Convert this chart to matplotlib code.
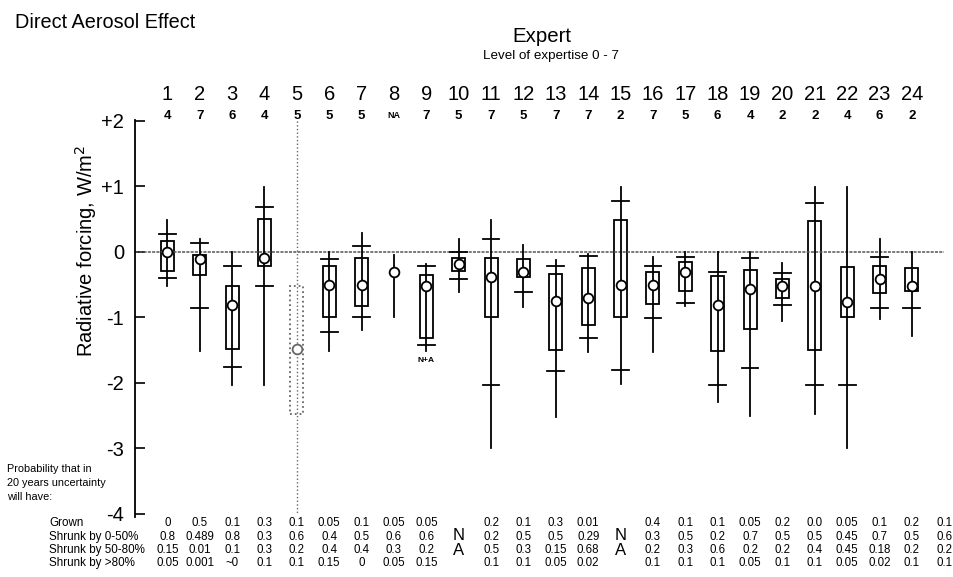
import matplotlib
matplotlib.use("Agg")
import matplotlib.pyplot as plt
from matplotlib.patches import Rectangle

plt.rcParams['font.family'] = ['Liberation Sans', 'DejaVu Sans']

# expert number and self-rated expertise (0-7)
experts = list(range(1, 25))
expertise = ['4', '7', '6', '4', '5', '5', '5', 'NA', '7', '5', '7', '5',
             '7', '7', '2', '7', '5', '6', '4', '2', '2', '4', '6', '2']

# radiative forcing estimates, W/m2 (None = not given)
whisker_top = [0.48, 0.2, 0.0, 0.99, None, 0.0, 0.29, -0.05, -0.18, 0.2, 0.48, 0.1,
               -0.12, -0.03, 0.99, -0.08, 0.0, 0.0, 0.0, -0.17, 0.99, 0.99, 0.19, 0.0]
cross_top = [0.28, 0.14, -0.21, 0.68, None, -0.11, 0.09, None, -0.21, 0.0, 0.19, None,
             -0.22, -0.07, 0.78, -0.22, -0.08, -0.3, -0.1, -0.32, 0.74, None, -0.08, None]
box_top = [0.17, -0.05, -0.52, 0.5, -0.52, -0.21, -0.1, None, -0.35, -0.1, -0.1, -0.11,
           -0.33, -0.25, 0.49, -0.31, -0.16, -0.37, -0.27, -0.42, 0.47, -0.23, -0.22, -0.24]
best = [0.0, -0.11, -0.81, -0.09, -1.49, -0.51, -0.5, -0.31, -0.52, -0.19, -0.39, -0.3,
        -0.75, -0.7, -0.51, -0.51, -0.31, -0.81, -0.57, -0.52, -0.52, -0.76, -0.41, -0.52]
box_bottom = [-0.29, -0.36, -1.49, -0.22, -2.48, -1.0, -0.82, None, -1.32, -0.29, -1.0, -0.39,
              -1.5, -1.11, -1.0, -0.8, -0.6, -1.52, -1.17, -0.7, -1.5, -1.0, -0.62, -0.59]
cross_bottom = [-0.4, -0.85, -1.76, -0.52, None, -1.23, -1.0, None, -1.42, -0.41, -2.03, -0.61,
                -1.82, -1.32, -1.81, -1.01, -0.78, -2.03, -1.78, -0.81, -2.03, -2.03, -0.86, -0.86]
whisker_bottom = [-0.52, -1.51, -2.03, -2.03, None, -1.51, -1.2, -1.0, -1.52, -0.61, -2.99, -0.84,
                  -2.52, -1.53, -2.02, -1.53, -0.82, -2.3, -2.51, -1.05, -2.47, -3.0, -1.03, -1.28]

# probability table below the plot (25 columns, None = N/A)
row_labels = ['Grown', 'Shrunk by 0-50%', 'Shrunk by 50-80%', 'Shrunk by >80%']
grown = ['0', '0.5', '0.1', '0.3', '0.1', '0.05', '0.1', '0.05', '0.05', None, '0.2', '0.1', '0.3',
         '0.01', None, '0.4', '0.1', '0.1', '0.05', '0.2', '0.0', '0.05', '0.1', '0.2', '0.1']
shrunk_0_50 = ['0.8', '0.489', '0.8', '0.3', '0.6', '0.4', '0.5', '0.6', '0.6', None, '0.2', '0.5', '0.5',
               '0.29', None, '0.3', '0.5', '0.2', '0.7', '0.5', '0.5', '0.45', '0.7', '0.5', '0.6']
shrunk_50_80 = ['0.15', '0.01', '0.1', '0.3', '0.2', '0.4', '0.4', '0.3', '0.2', None, '0.5', '0.3', '0.15',
                '0.68', None, '0.2', '0.3', '0.6', '0.2', '0.2', '0.4', '0.45', '0.18', '0.2', '0.2']
shrunk_80 = ['0.05', '0.001', '~0', '0.1', '0.1', '0.15', '0', '0.05', '0.15', None, '0.1', '0.1', '0.05',
             '0.02', None, '0.1', '0.1', '0.1', '0.05', '0.1', '0.1', '0.05', '0.02', '0.1', '0.1']
prob_note = ['Probability that in', '20 years uncertainty', 'will have:']

W, H = 954, 577
fig = plt.figure(figsize=(W / 100, H / 100), dpi=100)
ax = fig.add_axes([0.1415, 0.1005, 0.8585, 0.6955])
ax.set_xlim(0, 25.3)
ax.set_ylim(-4.08, 2.05)

for spine in ['top', 'right', 'bottom']:
    ax.spines[spine].set_visible(False)
ax.spines['left'].set_linewidth(1.3)
ax.spines['left'].set_bounds(-4.05, 2.02)
ax.set_xticks([])
ax.set_yticks([2, 1, 0, -1, -2, -3, -4])
ax.set_yticklabels(['+2', '+1', '0', '-1', '-2', '-3', '-4'], fontsize=14.5)
ax.tick_params(axis='y', direction='in', length=7, width=1.2, pad=8)

# y label sits higher than the axes centre in the original
ax.text(86 / W, 1 - 251 / H, 'Radiative forcing, W/m$^2$', transform=fig.transFigure,
        rotation=90, ha='center', va='center', fontsize=14.5)

# zero line
ax.plot([0, 25.0], [0, 0], color='#555555', lw=1.1, ls=(0, (2, 0.8)))

bw = 0.2   # half box width
cw = 0.26  # half cross width
for i, x in enumerate(experts):
    dotted = x == 5
    col = '#666666' if dotted else 'black'
    ls = ':' if dotted else '-'
    if dotted:
        ax.plot([x, x], [2.0, -4.0], color=col, lw=1.0, ls=ls)
    if whisker_top[i] is not None:
        ax.plot([x, x], [whisker_bottom[i], whisker_top[i]], color='black', lw=1.3)
    if box_top[i] is not None:
        ax.add_patch(Rectangle((x - bw, box_bottom[i]), 2 * bw, box_top[i] - box_bottom[i],
                               fill=False, edgecolor=col, lw=1.3, ls=ls))
    for c in (cross_top[i], cross_bottom[i]):
        if c is not None:
            ax.plot([x - cw, x + cw], [c, c], color='black', lw=1.3)
    ax.plot(x, best[i], 'o', ms=7, mfc='white', mec=col, mew=1.3, zorder=5)

ax.text(9, -1.66, 'N+A', ha='center', va='center', fontsize=6, fontweight='bold')

# header: expert numbers and expertise
for i, x in enumerate(experts):
    ax.text(x, 2.40, str(x), ha='center', va='center', fontsize=14.5, clip_on=False)
    fs = 6.5 if expertise[i] == 'NA' else 9.5
    ax.text(x, 2.08, expertise[i], ha='center', va='center', fontsize=fs,
            fontweight='bold', clip_on=False)

fig.text(15 / W, 1 - 22 / H, 'Direct Aerosol Effect', ha='left', va='center', fontsize=14.3)
fig.text(542 / W, 1 - 37 / H, 'Expert', ha='center', va='center', fontsize=14.7)
fig.text(551 / W, 1 - 56 / H, 'Level of expertise 0 - 7', ha='center', va='center', fontsize=9.6)

# probability table
for k, line in enumerate(prob_note):
    fig.text(7 / W, 1 - (469 + 14 * k) / H, line, ha='left', va='center', fontsize=7.8)
rows = [grown, shrunk_0_50, shrunk_50_80, shrunk_80]
row_y = [-4.14, -4.35, -4.55, -4.75]
for r, vals in enumerate(rows):
    fig.text(49 / W, ax.transData.transform((0, row_y[r]))[1] / H, row_labels[r],
             ha='left', va='center', fontsize=8.4)
    for j, v in enumerate(vals):
        if v is not None:
            ax.text(j + 1, row_y[r], v, ha='center', va='center', fontsize=8.3, clip_on=False)
for j in range(25):
    if grown[j] is None:
        ax.text(j + 1, -4.33, 'N', ha='center', va='center', fontsize=12, clip_on=False)
        ax.text(j + 1, -4.56, 'A', ha='center', va='center', fontsize=12, clip_on=False)

plt.savefig('out.png', dpi=100)
